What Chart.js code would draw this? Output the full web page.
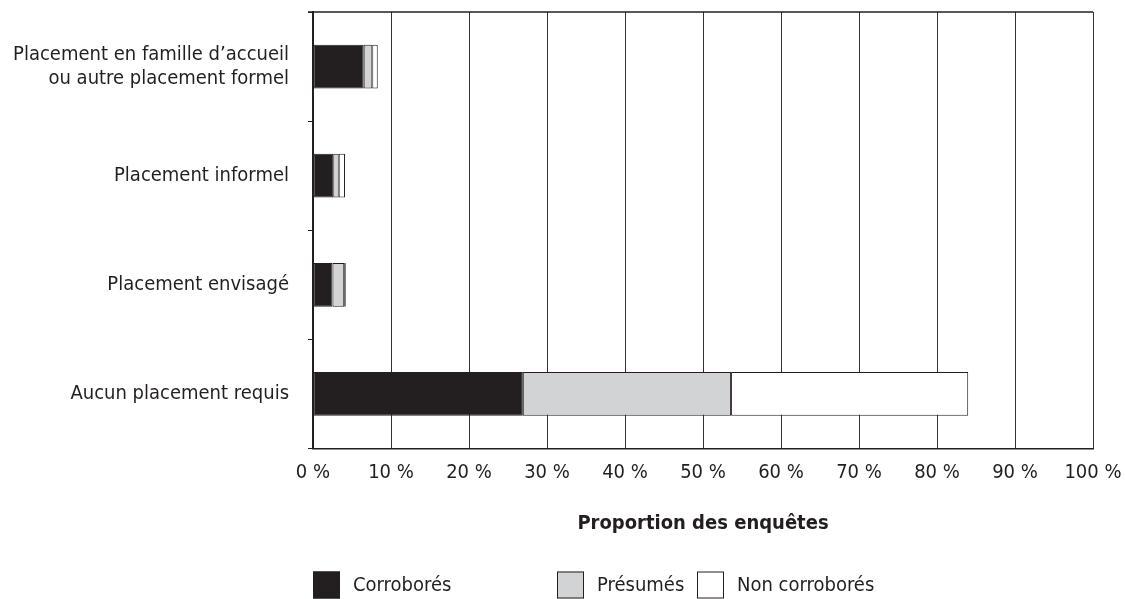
<!DOCTYPE html>
<html>
<head>
<meta charset="utf-8">
<script src="https://cdn.jsdelivr.net/npm/chart.js@4"></script>
<style>
  html, body { margin: 0; padding: 0; background: #fff; }
  #wrap { width: 1125px; height: 599px; }
</style>
</head>
<body>
<div id="wrap"><canvas id="chart" width="1125" height="599"></canvas></div>
<script>
const categories = [
    ["Placement en famille d\u2019accueil", "ou autre placement formel"],
    "Placement informel",
    "Placement envisag\u00e9",
    "Aucun placement requis"
];
const corrobores = [6.5, 2.6, 2.5, 26.9];
const presumes = [1.1, 0.7, 1.5, 26.7];
const nonCorrobores = [0.7, 0.8, 0.2, 30.4];
const seriesNames = ["Corrobor\u00e9s", "Pr\u00e9sum\u00e9s", "Non corrobor\u00e9s"];
const seriesColors = ["#231f20", "#d1d3d4", "#ffffff"];
const axisTitle = "Proportion des enqu\u00eates";

const ink = "#231f20";
const fontFamily = "'Liberation Sans Narrow', 'DejaVu Sans Condensed', 'Liberation Sans', sans-serif";

// top border of the plot frame
const frame = {
    id: 'frame',
    afterDatasetsDraw(chart) {
        const {ctx, chartArea} = chart;
        ctx.save();
        ctx.strokeStyle = ink;
        ctx.lineWidth = 1.5;
        ctx.beginPath();
        ctx.moveTo(chartArea.left - 5, chartArea.top);
        ctx.lineTo(chartArea.right, chartArea.top);
        ctx.stroke();
        ctx.restore();
    }
};

// legend drawn under the axis title, starting at the plot's left edge
const bottomLegend = {
    id: 'bottomLegend',
    afterDraw(chart) {
        const {ctx, chartArea} = chart;
        const offsets = [0, 244, 384];
        const y = chartArea.bottom + 123;
        ctx.save();
        ctx.font = "20px " + fontFamily;
        ctx.textBaseline = 'middle';
        ctx.textAlign = 'left';
        chart.data.datasets.forEach((ds, i) => {
            const x = chartArea.left + offsets[i];
            ctx.fillStyle = ds.backgroundColor;
            ctx.fillRect(x, y, 27, 27);
            ctx.strokeStyle = ink;
            ctx.lineWidth = 1;
            ctx.strokeRect(x + 0.5, y + 0.5, 26, 26);
            ctx.fillStyle = ink;
            ctx.fillText(ds.label, x + 40, y + 14);
        });
        ctx.restore();
    }
};

const ctx = document.getElementById('chart').getContext('2d');
const chart = new Chart(ctx, {
    type: 'bar',
    data: {
        labels: categories,
        datasets: [
            { label: seriesNames[0], data: corrobores, backgroundColor: seriesColors[0] },
            { label: seriesNames[1], data: presumes, backgroundColor: seriesColors[1] },
            { label: seriesNames[2], data: nonCorrobores, backgroundColor: seriesColors[2] }
        ].map(d => Object.assign(d, {
            borderColor: ink,
            borderWidth: 1,
            borderSkipped: false,
            categoryPercentage: 1,
            barPercentage: 0.4
        }))
    },
    options: {
        indexAxis: 'y',
        responsive: false,
        animation: false,
        devicePixelRatio: 1,
        layout: { padding: { top: 12, right: 32, bottom: 55, left: 0 } },
        plugins: {
            legend: { display: false },
            tooltip: { enabled: false }
        },
        scales: {
            x: {
                stacked: true,
                min: 0,
                max: 100,
                ticks: {
                    stepSize: 10,
                    color: ink,
                    padding: 12,
                    maxRotation: 0,
                    font: { family: fontFamily, size: 20 },
                    callback: v => v + ' %'
                },
                grid: { color: '#333', lineWidth: 1, drawTicks: false },
                border: { color: ink, width: 1.5 },
                title: {
                    display: true,
                    text: axisTitle,
                    color: ink,
                    font: { family: fontFamily, size: 20, weight: 'bold' },
                    padding: { top: 0, bottom: 8 }
                },
                afterFit(scale) {
                    scale.height = 95.5;
                    scale.paddingLeft = 0;
                    scale.paddingRight = 0;
                }
            },
            y: {
                stacked: true,
                ticks: {
                    color: ink,
                    padding: 19,
                    font: { family: fontFamily, size: 20 }
                },
                grid: { drawOnChartArea: false, drawTicks: true, tickLength: 5, color: ink, lineWidth: 1 },
                border: { color: ink, width: 2 },
                afterFit(scale) {
                    scale.width = 313;
                    scale.paddingTop = 0;
                    scale.paddingBottom = 0;
                }
            }
        }
    },
    plugins: [frame, bottomLegend]
});
</script>
</body>
</html>
